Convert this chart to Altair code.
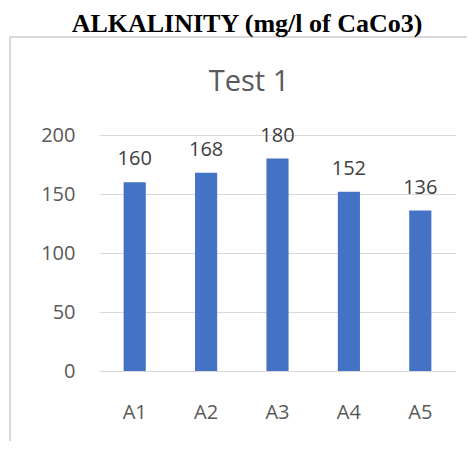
import altair as alt
import pandas as pd

categories = ["A1", "A2", "A3", "A4", "A5"]
values = [160, 168, 180, 152, 136]
main_title = "ALKALINITY (mg/l of CaCo3)"
chart_title = "Test 1"

df = pd.DataFrame({"cat": categories, "val": values})
one = pd.DataFrame({"a": [0]})

base = alt.Chart(df)

bars = base.mark_bar(color="#4472C4").encode(
    x=alt.X("cat:N", sort=categories, title=None,
            scale=alt.Scale(paddingInner=0.69, paddingOuter=0.345),
            axis=alt.Axis(labelAngle=0, ticks=False, domain=False, grid=False,
                          labelFont="Open Sans", labelFontSize=20,
                          labelColor="#595959", labelPadding=31)),
    y=alt.Y("val:Q", title=None,
            scale=alt.Scale(domain=[0, 200]),
            axis=alt.Axis(values=[0, 50, 100, 150, 200], ticks=False, domain=False,
                          grid=True, gridColor="#d9d9d9", gridWidth=1,
                          labelFont="Open Sans", labelFontSize=20,
                          labelColor="#595959", labelPadding=24)),
)

labels = base.mark_text(font="Open Sans", fontSize=20, color="#404040",
                        baseline="alphabetic", dy=-17).encode(
    x=alt.X("cat:N", sort=categories),
    y=alt.Y("val:Q"),
    text=alt.Text("val:Q"),
)

frame_left = alt.Chart(one).mark_rule(
    color="#d9d9d9", strokeWidth=2).encode(
    x=alt.value(-89), y=alt.value(-98), y2=alt.value(330))
frame_top = alt.Chart(one).mark_rule(
    color="#d9d9d9", strokeWidth=2).encode(
    x=alt.value(-90), x2=alt.value(380), y=alt.value(-98))

title1 = alt.Chart(one).mark_text(
    text=main_title, font="Liberation Serif", fontSize=26, fontWeight="bold",
    color="#000000", align="center", baseline="alphabetic").encode(
    x=alt.value(148), y=alt.value(-103))
title2 = alt.Chart(one).mark_text(
    text=chart_title, font="Open Sans", fontSize=29,
    color="#595959", align="center", baseline="alphabetic").encode(
    x=alt.value(150), y=alt.value(-44))

chart = alt.layer(frame_left, frame_top, title1, title2, bars, labels).properties(
    width=357, height=236,
    autosize=alt.AutoSizeParams(type="none"),
    padding={"left": 91, "top": 127, "right": 11, "bottom": 70},
).configure_view(stroke=None)

chart.save("out.html", embed_options={"renderer": "svg", "actions": False})
